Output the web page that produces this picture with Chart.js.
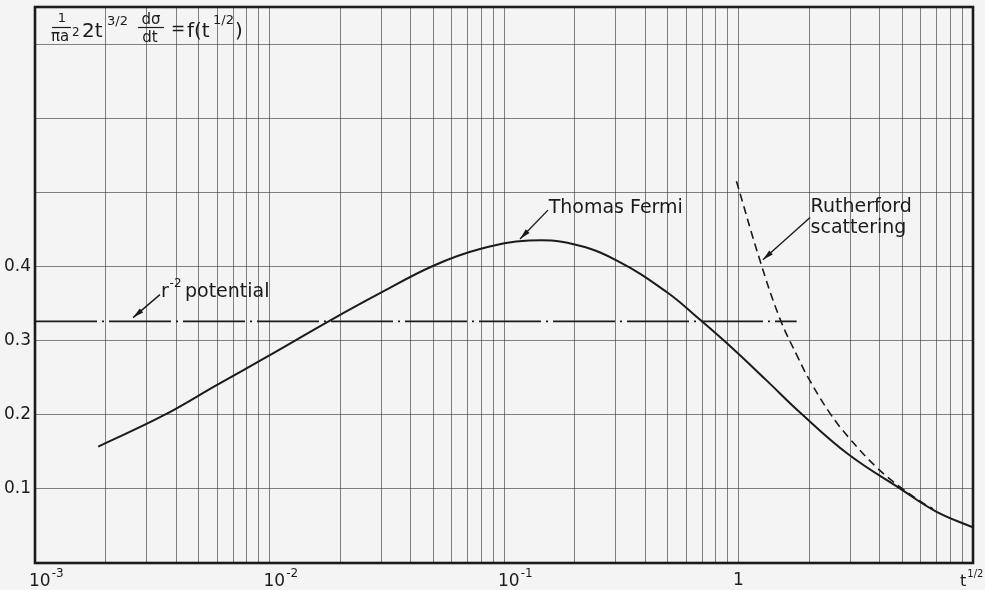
<!DOCTYPE html>
<html>
<head>
<meta charset="utf-8">
<script src="https://cdn.jsdelivr.net/npm/chart.js@4.4.0/dist/chart.umd.min.js"></script>
<style>
  html, body { margin: 0; padding: 0; background: #f4f4f4; }
  #wrap { width: 985px; height: 590px; }
</style>
</head>
<body>
<div id="wrap"><canvas id="chart" width="985" height="590"></canvas></div>
<script>
// Thomas Fermi curve
const tfX = [0.00186, 0.00353, 0.00595, 0.00973, 0.0181, 0.0296, 0.050, 0.079, 0.128, 0.198, 0.303, 0.494, 0.686, 0.947, 1.32, 1.83, 2.93, 4.96, 7.0, 10]
const tfY = [0.157, 0.199, 0.240, 0.278, 0.327, 0.364, 0.401, 0.4235, 0.435, 0.430, 0.408, 0.3655, 0.328, 0.289, 0.246, 0.203, 0.147, 0.099, 0.069, 0.048]

// Rutherford scattering (dashed)
const rutX = [0.98, 1.235, 1.50, 1.80, 1.99, 2.46, 2.94, 3.88, 4.96, 6.04, 6.75]
const rutY = [0.515, 0.408, 0.330, 0.276, 0.249, 0.2015, 0.170, 0.129, 0.101, 0.082, 0.073]

// r^-2 potential (dash-dot, constant)
const rsqX = [0.001, 1.77]
const rsqY = [0.326, 0.326]

// axis ticks
const xDecades = [0.001, 0.01, 0.1, 1, 10]
const xTickBase = ['10', '10', '10', '1', 't']
const xTickExp = ['-3', '-2', '-1', '', '1/2']
const yTickValues = [0.1, 0.2, 0.3, 0.4]
const yTickLabels = ['0.1', '0.2', '0.3', '0.4']

const ink = '#1b1b1b'
const gridColor = 'rgba(55,55,55,0.62)'
const font = '"DejaVu Sans", sans-serif'

const toPoints = (xs, ys) => xs.map((x, i) => ({ x: x, y: ys[i] }))

// all the 1..9 lines of every decade for the log grid
let xGridValues = []
xDecades.forEach((d, i) => {
  if (i === xDecades.length - 1) { xGridValues.push(d); return }
  for (let m = 1; m < 10; m++) xGridValues.push(+(m * d).toPrecision(3))
})

// draw a small filled arrow from (x1,y1) to tip (x2,y2)
const arrow = (c, x1, y1, x2, y2) => {
  let a = Math.atan2(y2 - y1, x2 - x1)
  c.beginPath()
  c.moveTo(x1, y1)
  c.lineTo(x2, y2)
  c.lineWidth = 1.4
  c.stroke()
  c.beginPath()
  c.moveTo(x2, y2)
  c.lineTo(x2 - 11 * Math.cos(a) + 2.6 * Math.sin(a), y2 - 11 * Math.sin(a) - 2.6 * Math.cos(a))
  c.lineTo(x2 - 11 * Math.cos(a) - 2.6 * Math.sin(a), y2 - 11 * Math.sin(a) + 2.6 * Math.cos(a))
  c.closePath()
  c.fill()
}

const txt = (c, s, x, y, size, align) => {
  c.font = size + 'px ' + font
  c.textAlign = align || 'left'
  c.fillText(s, x, y)
}

// frame, x labels, formula and annotations
const extras = {
  id: 'extras',
  afterDraw(chart) {
    const c = chart.ctx
    const a = chart.chartArea
    const xs = chart.scales.x
    const ys = chart.scales.y
    const px = v => xs.getPixelForValue(v)
    const py = v => ys.getPixelForValue(v)
    c.save()
    c.fillStyle = ink
    c.strokeStyle = ink
    c.textBaseline = 'alphabetic'

    // heavy frame
    c.lineWidth = 2.6
    c.strokeRect(a.left, a.top, a.right - a.left, a.bottom - a.top)

    // x tick labels with superscripts
    xDecades.forEach((d, i) => {
      let x = px(d)
      let base = xTickBase[i]
      if (base === '1') { txt(c, base, x, a.bottom + 22, 17, 'center'); return }
      let last = i === xDecades.length - 1
      let bx = last ? x - 13 : x - 6
      let size = last ? 16 : 17
      txt(c, base, bx, a.bottom + 23, size)
      c.font = size + 'px ' + font
      let w = c.measureText(base).width
      txt(c, xTickExp[i], bx + w + 1, a.bottom + 14, last ? 10 : 12)
    })

    // formula in top left corner
    txt(c, '1', 62, 22, 13, 'center')
    c.lineWidth = 1.2
    c.beginPath(); c.moveTo(52, 27.5); c.lineTo(71, 27.5); c.stroke()
    txt(c, 'πa', 51, 41, 15)
    txt(c, '2', 72, 36, 12)
    txt(c, '2t', 82, 37, 20)
    txt(c, '3/2', 107, 25, 13)
    txt(c, 'dσ', 151, 24, 15, 'center')
    c.beginPath(); c.moveTo(138, 27.5); c.lineTo(164, 27.5); c.stroke()
    txt(c, 'dt', 150, 42, 15, 'center')
    txt(c, '=', 171, 34, 17)
    txt(c, 'f(t', 187, 37, 20)
    txt(c, '1/2', 213, 24, 13)
    txt(c, ')', 235, 37, 20)

    // Thomas Fermi label
    txt(c, 'Thomas Fermi', px(0.155), py(0.472), 19)
    arrow(c, px(0.154), py(0.476), px(0.117), py(0.437))

    // Rutherford label
    txt(c, 'Rutherford', px(2.03), py(0.474), 19)
    txt(c, 'scattering', px(2.03), py(0.445), 19)
    arrow(c, px(2.02), py(0.466), px(1.27), py(0.409))

    // r^-2 label
    txt(c, 'r', px(0.00345), py(0.359), 19)
    txt(c, '-2', px(0.00375), py(0.372), 12)
    txt(c, 'potential', px(0.00436), py(0.359), 19)
    arrow(c, px(0.00341), py(0.362), px(0.00262), py(0.331))

    c.restore()
  }
}

const ctx = document.getElementById('chart').getContext('2d')
const chart = new Chart(ctx, {
  type: 'line',
  data: {
    datasets: [
      {
        label: 'Thomas Fermi',
        data: toPoints(tfX, tfY),
        borderColor: ink,
        borderWidth: 2,
        pointRadius: 0,
        tension: 0.4
      },
      {
        label: 'Rutherford scattering',
        data: toPoints(rutX, rutY),
        borderColor: ink,
        borderWidth: 1.6,
        borderDash: [8, 5],
        pointRadius: 0,
        tension: 0.4
      },
      {
        label: 'r-2 potential',
        data: toPoints(rsqX, rsqY),
        borderColor: ink,
        borderWidth: 1.6,
        borderDash: [62, 5, 2, 5],
        pointRadius: 0
      }
    ]
  },
  options: {
    responsive: false,
    animation: false,
    layout: { padding: { top: 7, right: 12, left: 0, bottom: 0 } },
    plugins: {
      legend: { display: false },
      tooltip: { enabled: false }
    },
    scales: {
      x: {
        type: 'logarithmic',
        min: 0.001,
        max: 10,
        afterBuildTicks: scale => { scale.ticks = xGridValues.map(v => ({ value: v })) },
        afterFit: scale => { scale.height = 27; scale.paddingLeft = 0; scale.paddingRight = 0 },
        grid: { color: gridColor, lineWidth: 1, drawTicks: false },
        border: { display: false },
        ticks: { display: false }
      },
      y: {
        min: 0,
        max: 0.75,
        afterBuildTicks: scale => { scale.ticks = [0, 0.1, 0.2, 0.3, 0.4, 0.5, 0.6, 0.7, 0.75].map(v => ({ value: v })) },
        afterFit: scale => { scale.width = 35; scale.paddingTop = 0; scale.paddingBottom = 0 },
        grid: { color: gridColor, lineWidth: 1, drawTicks: false },
        border: { display: false },
        ticks: {
          padding: 4,
          color: ink,
          font: { family: font, size: 17 },
          callback: v => {
            let i = yTickValues.findIndex(t => Math.abs(t - v) < 1e-6)
            return i >= 0 ? yTickLabels[i] : ''
          }
        }
      }
    }
  },
  plugins: [extras]
})
</script>
</body>
</html>
